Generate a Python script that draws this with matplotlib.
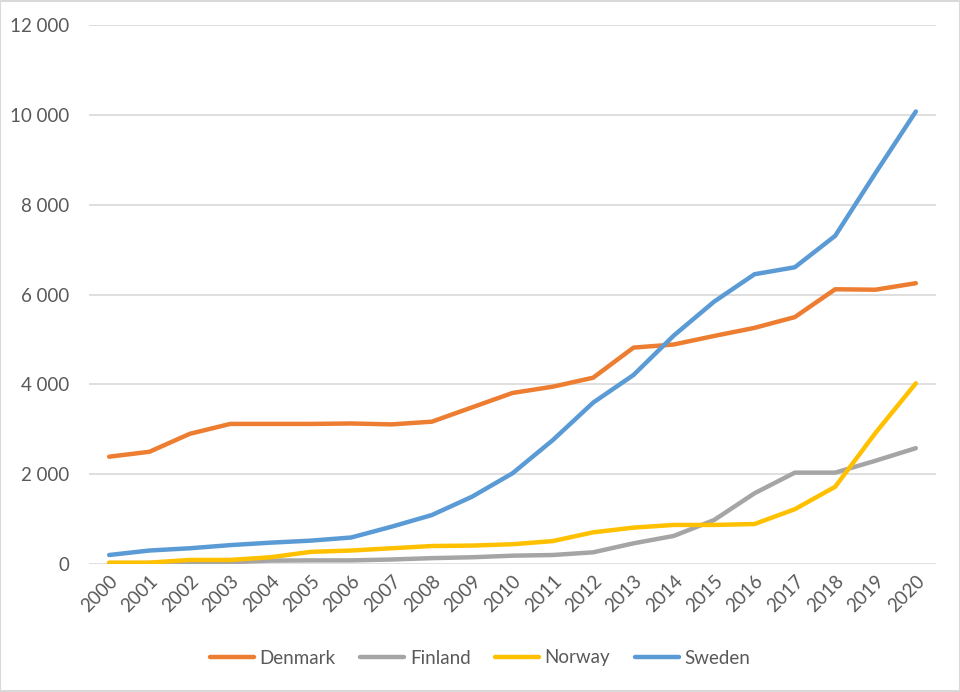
import matplotlib
matplotlib.use("Agg")
import matplotlib.pyplot as plt
from matplotlib.ticker import FuncFormatter, FixedLocator
from matplotlib.patches import Rectangle

years = [str(y) for y in range(2000, 2021)]
denmark = [2390, 2500, 2900, 3120, 3120, 3120, 3130, 3110, 3170, 3490, 3810,
           3950, 4150, 4820, 4890, 5080, 5260, 5500, 6120, 6110, 6255]
finland = [10, 20, 30, 40, 75, 80, 80, 100, 130, 150, 185,
           200, 260, 460, 625, 980, 1575, 2035, 2035, 2300, 2580]
norway = [30, 30, 90, 90, 150, 270, 300, 350, 400, 410, 440,
          510, 705, 810, 870, 870, 890, 1220, 1720, 2920, 4025]
sweden = [200, 300, 350, 420, 475, 520, 590, 830, 1090, 1500, 2020,
          2760, 3595, 4210, 5090, 5845, 6455, 6610, 7310, 8710, 10080]

series = [("Denmark", denmark, "#ED7D31"),
          ("Finland", finland, "#A5A5A5"),
          ("Norway", norway, "#FFC000"),
          ("Sweden", sweden, "#5B9BD5")]
yticks = [0, 2000, 4000, 6000, 8000, 10000, 12000]

plt.rcParams['font.family'] = ['Lato', 'DejaVu Sans']

fig = plt.figure(figsize=(9.6, 6.92), dpi=100)
ax = fig.add_axes([0.0927, 0.185, 0.975 - 0.0927, 0.9634 - 0.185])

x = list(range(len(years)))
for name, vals, col in series:
    ax.plot(x, vals, color=col, lw=3.2, label=name, solid_capstyle='round',
            solid_joinstyle='round', zorder=3)

ax.set_xlim(-0.5, len(years) - 0.5)
ax.set_ylim(0, 12000)
ax.yaxis.set_major_locator(FixedLocator(yticks))
ax.yaxis.set_major_formatter(FuncFormatter(lambda v, p: f"{int(v):,}".replace(",", " ")))
ax.set_xticks(x)
ax.set_xticklabels(years, rotation=45, ha='right', rotation_mode='anchor')
ax.grid(axis='y', color='#D9D9D9', lw=1.2, zorder=0)
for s in ax.spines.values():
    s.set_visible(False)
ax.tick_params(axis='both', length=0, labelsize=13.5, colors='#595959')
ax.tick_params(axis='y', pad=14)
ax.tick_params(axis='x', pad=6)

leg = fig.legend(loc='center', bbox_to_anchor=(0.5, 1 - 658 / 692), ncol=4,
                 frameon=False, fontsize=13.5, handlelength=2.35,
                 columnspacing=1.3, handletextpad=0.3)
for t in leg.get_texts():
    t.set_color('#595959')

fig.patches.append(Rectangle((0.0, 0.002), 1.0, 0.996, transform=fig.transFigure,
                             fill=False, edgecolor='#D9D9D9', lw=1.5))

fig.savefig("out.png", dpi=100, facecolor='white')
